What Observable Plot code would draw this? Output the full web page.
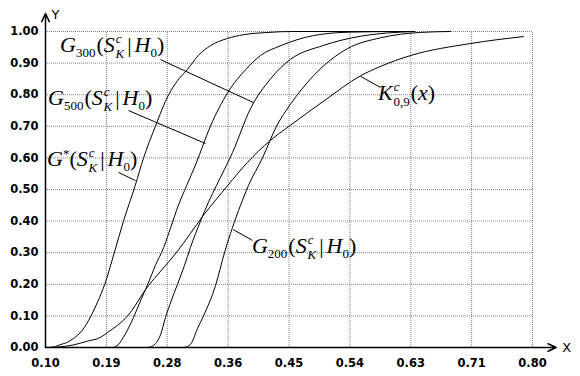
<!DOCTYPE html>
<html>
<head>
<meta charset="utf-8">
<script src="https://cdn.jsdelivr.net/npm/d3@7"></script>
<script src="https://cdn.jsdelivr.net/npm/@observablehq/plot@0.6"></script>
<style>
  html, body { margin: 0; padding: 0; background: #fff; }
</style>
</head>
<body>
<div id="chart"></div>
<script>
// ---- tick values and labels ----
const xTicks = [0.1, 0.1875, 0.275, 0.3625, 0.45, 0.5375, 0.625, 0.7125, 0.8];
const xTickLabels = ["0.10", "0.19", "0.28", "0.36", "0.45", "0.54", "0.63", "0.71", "0.80"];
const yTicks = [0, 0.1, 0.2, 0.3, 0.4, 0.5, 0.6, 0.7, 0.8, 0.9, 1.0];
const yTickLabels = ["0.00", "0.10", "0.20", "0.30", "0.40", "0.50", "0.60", "0.70", "0.80", "0.90", "1.00"];

// ---- series ----
const gStarX = [0.10, 0.112, 0.117, 0.130, 0.140, 0.153, 0.165, 0.175, 0.185, 0.199, 0.212, 0.229, 0.241, 0.258, 0.277, 0.290, 0.304, 0.320, 0.337, 0.360, 0.385, 0.420, 0.452, 0.63];
const gStarY = [0, 0.001, 0.006, 0.015, 0.028, 0.055, 0.098, 0.145, 0.199, 0.301, 0.399, 0.513, 0.600, 0.700, 0.800, 0.845, 0.880, 0.925, 0.955, 0.977, 0.990, 0.997, 1.0, 1.0];

const g500X = [0.10, 0.196, 0.205, 0.214, 0.2265, 0.237, 0.247, 0.258, 0.270, 0.280, 0.291, 0.303, 0.316, 0.337, 0.362, 0.388, 0.409, 0.438, 0.485, 0.538, 0.61, 0.63];
const g500Y = [0, 0, 0.01, 0.04, 0.095, 0.15, 0.20, 0.26, 0.317, 0.38, 0.45, 0.513, 0.58, 0.70, 0.807, 0.88, 0.924, 0.955, 0.987, 0.998, 1.0, 1.0];

const g300X = [0.10, 0.2466, 0.2581, 0.2653, 0.2725, 0.2811, 0.2897, 0.2998, 0.3084, 0.3228, 0.3343, 0.3458, 0.3688, 0.3947, 0.4234, 0.4378, 0.4522, 0.4996, 0.5528, 0.63];
const g300Y = [0, 0, 0.012, 0.04, 0.095, 0.15, 0.20, 0.26, 0.317, 0.40, 0.46, 0.513, 0.617, 0.756, 0.85, 0.885, 0.912, 0.956, 0.985, 1.0];

const g200X = [0.10, 0.2984, 0.3084, 0.3185, 0.3271, 0.3444, 0.3573, 0.3688, 0.3803, 0.3918, 0.4119, 0.4320, 0.4522, 0.4852, 0.5341, 0.5815, 0.6390, 0.6821];
const g200Y = [0, 0, 0.01, 0.06, 0.10, 0.196, 0.30, 0.38, 0.45, 0.513, 0.60, 0.70, 0.77, 0.86, 0.946, 0.98, 0.997, 1.0];

const kX = [0.10, 0.12, 0.14, 0.16, 0.179, 0.189, 0.218, 0.248, 0.265, 0.288, 0.327, 0.362, 0.39, 0.423, 0.45, 0.50, 0.553, 0.582, 0.625, 0.711, 0.787];
const kY = [0, 0.002, 0.008, 0.02, 0.032, 0.047, 0.10, 0.196, 0.24, 0.30, 0.418, 0.513, 0.585, 0.655, 0.70, 0.78, 0.86, 0.89, 0.924, 0.962, 0.984];

// ---- annotation leaders (data units) ----
const leaderNames = ["G300", "G500", "Gstar", "G200", "K"];
const leaderX1 = [0.2653, 0.2193, 0.205, 0.370, 0.5528];
const leaderY1 = [0.911, 0.75, 0.554, 0.373, 0.858];
const leaderX2 = [0.399, 0.330, 0.2294, 0.3975, 0.5815];
const leaderY2 = [0.775, 0.6456, 0.528, 0.339, 0.823];

// label anchors (left, baseline) in data units
const labelX = [0.1216, 0.1043, 0.1029, 0.3975, 0.5787];
const labelY = [0.934, 0.765, 0.572, 0.297, 0.782];

// axis extents beyond the domain (arrows)
const xAxisEnd = 0.834;
const yAxisEnd = 1.057;

const seriesDefs = [
  ["G*", gStarX, gStarY],
  ["G500", g500X, g500Y],
  ["G300", g300X, g300Y],
  ["G200", g200X, g200Y],
  ["K", kX, kY]
];
const curveData = seriesDefs.flatMap(([name, xs, ys]) => xs.map((x, i) => ({series: name, x, y: ys[i]})));
const leaders = leaderNames.map((n, i) => ({n, x1: leaderX1[i], y1: leaderY1[i], x2: leaderX2[i], y2: leaderY2[i]}));

const plot = Plot.plot({
  width: 580,
  height: 376,
  marginLeft: 45,
  marginRight: 48,
  marginTop: 31,
  marginBottom: 29,
  x: {domain: [0.1, 0.8]},
  y: {domain: [0, 1]},
  style: {fontFamily: "'DejaVu Sans', sans-serif", fontSize: "11.5px", background: "#fff", color: "#000"},
  marks: [
    Plot.ruleX(xTicks, {y1: 0, y2: 1, stroke: "#808080", strokeWidth: 1, strokeDasharray: "1,1"}),
    Plot.ruleY(yTicks, {x1: 0.1, x2: 0.8, stroke: "#808080", strokeWidth: 1, strokeDasharray: "1,1"}),
    Plot.line(curveData, {x: "x", y: "y", z: "series", stroke: "#000", strokeWidth: 1, curve: "monotone-x"}),
    Plot.link(leaders, {x1: "x1", y1: "y1", x2: "x2", y2: "y2", stroke: "#000", strokeWidth: 1}),
    Plot.arrow([{x1: 0.1, y1: 0, x2: xAxisEnd, y2: 0}], {x1: "x1", y1: "y1", x2: "x2", y2: "y2", stroke: "#000", strokeWidth: 1.5, headLength: 9, headAngle: 50, bend: 0}),
    Plot.arrow([{x1: 0.1, y1: 0, x2: 0.1, y2: yAxisEnd}], {x1: "x1", y1: "y1", x2: "x2", y2: "y2", stroke: "#000", strokeWidth: 1.5, headLength: 9, headAngle: 50, bend: 0}),
    Plot.text([{t: "X", x: 0.849, y: 0}], {x: "x", y: "y", text: "t", fontSize: 13, textAnchor: "middle", fill: "#000"}),
    Plot.text([{t: "Y", x: 0.1145, y: 1.054}], {x: "x", y: "y", text: "t", fontSize: 13, textAnchor: "middle", fill: "#000"}),
    Plot.axisX({ticks: xTicks, tickFormat: d => xTickLabels[xTicks.indexOf(d)], tickSize: 0, tickPadding: 11, label: null, fontWeight: "bold"}),
    Plot.axisY({ticks: yTicks, tickFormat: d => yTickLabels[yTicks.indexOf(d)], tickSize: 0, tickPadding: 7, label: null, fontWeight: "bold"})
  ]
});

document.getElementById("chart").appendChild(plot);

// ---- math labels as real text with sub/superscripts ----
const sx = plot.scale("x"), sy = plot.scale("y");
const BIG = 22, SMALL = 13;
const serif = "'Liberation Serif', 'Times New Roman', serif";
const part = (t, it, size, dx = 0, dy = 0) => ({t, it, size, dx, dy});
const labelParts = [
  // G300(S_K^c | H0)
  [part("G", 1, BIG), part("300", 0, SMALL, 0, 5), part("(", 0, BIG, 1, -5), part("S", 1, BIG), part("c", 1, SMALL, 1, -9), part("K", 1, SMALL, -6, 15), part("|", 0, BIG, 3, -6), part("H", 1, BIG, 3), part("0", 0, SMALL, 0, 5), part(")", 0, BIG, 0, -5)],
  // G500
  [part("G", 1, BIG), part("500", 0, SMALL, 0, 5), part("(", 0, BIG, 1, -5), part("S", 1, BIG), part("c", 1, SMALL, 1, -9), part("K", 1, SMALL, -6, 15), part("|", 0, BIG, 3, -6), part("H", 1, BIG, 3), part("0", 0, SMALL, 0, 5), part(")", 0, BIG, 0, -5)],
  // G*
  [part("G", 1, BIG), part("*", 0, SMALL, 0, -8), part("(", 0, BIG, 0, 8), part("S", 1, BIG), part("c", 1, SMALL, 1, -9), part("K", 1, SMALL, -6, 15), part("|", 0, BIG, 3, -6), part("H", 1, BIG, 3), part("0", 0, SMALL, 0, 5), part(")", 0, BIG, 0, -5)],
  // G200
  [part("G", 1, BIG), part("200", 0, SMALL, 0, 5), part("(", 0, BIG, 1, -5), part("S", 1, BIG), part("c", 1, SMALL, 1, -9), part("K", 1, SMALL, -6, 15), part("|", 0, BIG, 3, -6), part("H", 1, BIG, 3), part("0", 0, SMALL, 0, 5), part(")", 0, BIG, 0, -5)],
  // K^c_{0,9}(x)
  [part("K", 1, BIG), part("c", 1, SMALL, 1, -9), part("0,9", 0, SMALL, -6, 15), part("(", 0, BIG, 1, -6), part("x", 1, BIG), part(")", 0, BIG)]
];
const g = d3.select(plot).append("g").attr("aria-label", "curve labels").attr("text-anchor", "start");
labelParts.forEach((parts, i) => {
  const t = g.append("text")
    .attr("x", sx.apply(labelX[i]))
    .attr("y", sy.apply(labelY[i]))
    .attr("text-anchor", "start")
    .attr("font-family", serif)
    .attr("fill", "#000");
  parts.forEach(p => {
    t.append("tspan")
      .attr("font-size", p.size)
      .attr("font-style", p.it ? "italic" : "normal")
      .attr("dx", p.dx)
      .attr("dy", p.dy)
      .text(p.t);
  });
});
</script>
</body>
</html>
